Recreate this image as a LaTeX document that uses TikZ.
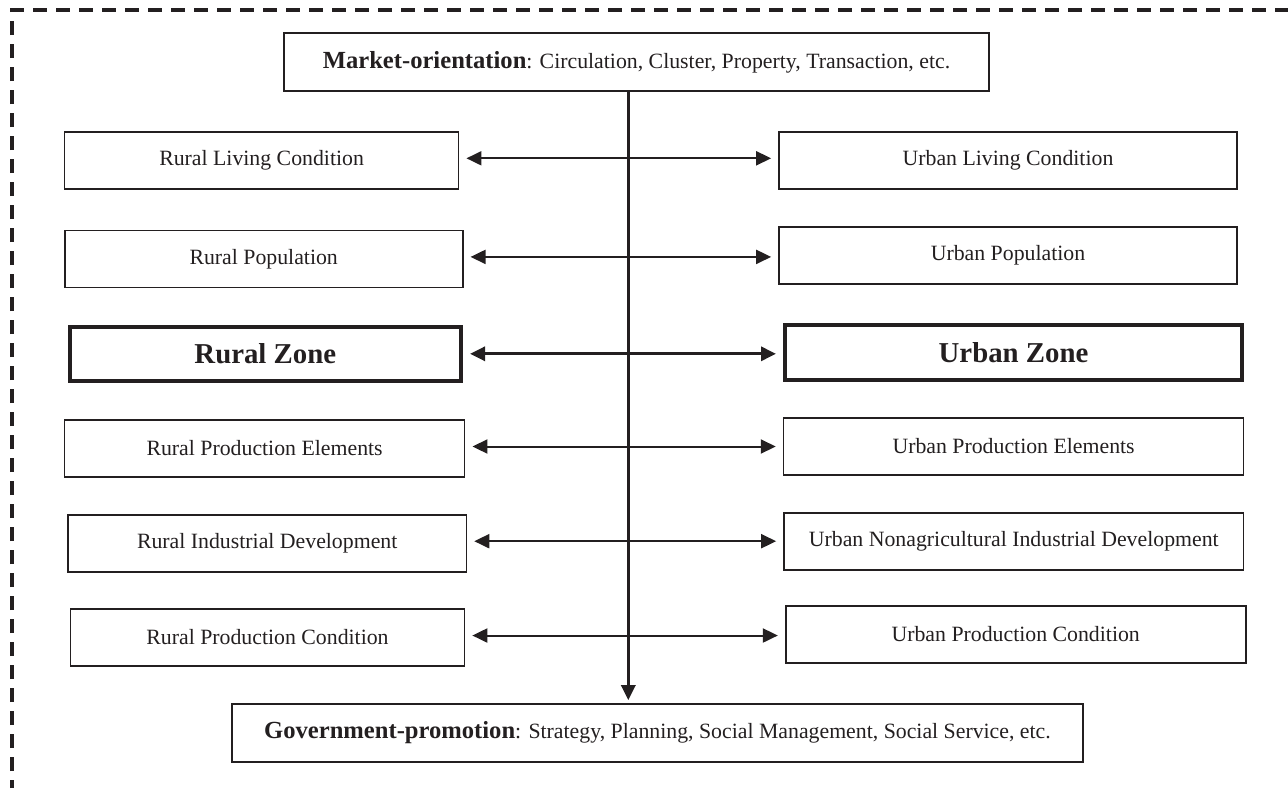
\documentclass[tikz,border=0pt]{standalone}
\usepackage{fontspec}
\setmainfont{Liberation Serif}
\usetikzlibrary{arrows.meta,positioning}

\definecolor{ink}{HTML}{231F20}
\newcommand{\headword}[1]{{\fontsize{12.3}{14}\selectfont\bfseries #1}}

\begin{document}
\begin{tikzpicture}
      [x=0.5pt, y=-0.5pt, color=ink, >={Triangle[length=7.5pt,width=7pt]},
      plain/.style={rectangle, draw, line width=0.85pt, minimum height=28.5pt,
        inner sep=0pt, align=center, font=\fontsize{10.9}{13}\selectfont},
      zone/.style={rectangle, draw, line width=2pt, minimum height=27.3pt,
        inner sep=0pt, align=center, font=\fontsize{14.4}{17}\selectfont\bfseries},
      link/.style={<->, line width=1pt, shorten <=3.5pt, shorten >=3.5pt}]

      \useasboundingbox (0,0) rectangle (1288,788);
      \draw [line width=1.7pt, dash pattern=on 7pt off 4.5pt, dash phase=3pt]
        (12,788) -- (12,10) -- (1288,10);

      % top and bottom
      \node [plain, minimum width=352.5pt, minimum height=29pt] (M) at (636.5,62)
        {\headword{Market-orientation}: Circulation, Cluster, Property, Transaction, etc.};
      \node [plain, minimum width=425.5pt, minimum height=29pt] (G) at (657.5,733)
        {\headword{Government-promotion}: Strategy, Planning, Social Management, Social Service, etc.};
      \coordinate (axis) at (628.3,0);

      % rural side
      \node [plain, minimum width=197pt]    (RL) at (261.6,160.3) {Rural Living Condition};
      \node [plain, minimum width=199pt]    (RP) at (263.7,258.9) {Rural Population};
      \node [zone,  minimum width=195.7pt]  (RZ) at (265.3,353.8) {Rural Zone};
      \node [plain, minimum width=200pt]    (RE) at (264.6,448.5) {Rural Production Elements};
      \node [plain, minimum width=199.2pt]  (RI) at (267.2,543.2) {Rural Industrial Development};
      \node [plain, minimum width=197pt]    (RC) at (267.5,637.5) {Rural Production Condition};

      % urban side
      \node [plain, minimum width=229pt]    (UL) at (1008,160.4)   {Urban Living Condition};
      \node [plain, minimum width=229pt]    (UP) at (1008,255.2)   {Urban Population};
      \node [zone,  minimum width=228.5pt]  (UZ) at (1013.5,352.4) {Urban Zone};
      \node [plain, minimum width=230pt]    (UE) at (1013.6,446.5) {Urban Production Elements};
      \node [plain, minimum width=229.8pt]  (UI) at (1013.8,541.5) {Urban Nonagricultural Industrial Development};
      \node [plain, minimum width=230pt]    (UC) at (1015.7,634.4) {Urban Production Condition};

      \draw [->, line width=1.6pt, shorten >=1.5pt] (M.south -| axis) -- (G.north -| axis);

      \draw [link] ([yshift=1pt]RL.east) -- ([yshift=1pt]RL.east -| UL.west);
      \draw [link] ([yshift=1pt]RP.east) -- ([yshift=1pt]RP.east -| UP.west);
      \draw [link, line width=1.5pt] (RZ.east) -- (RZ.east -| UZ.west);
      \draw [link] ([yshift=1pt]RE.east) -- ([yshift=1pt]RE.east -| UE.west);
      \draw [link] ([yshift=1pt]RI.east) -- ([yshift=1pt]RI.east -| UI.west);
      \draw [link] ([yshift=1pt]RC.east) -- ([yshift=1pt]RC.east -| UC.west);
    \end{tikzpicture}
\end{document}
